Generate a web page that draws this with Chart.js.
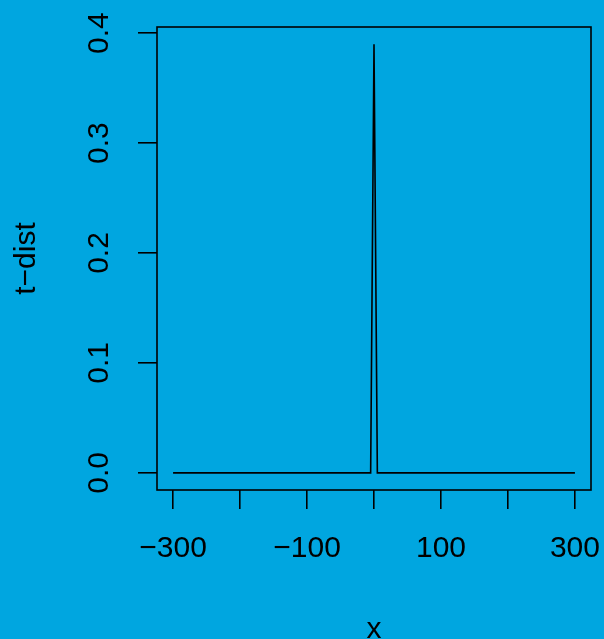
<!DOCTYPE html>
<html>
<head>
<meta charset="utf-8">
<script src="https://cdn.jsdelivr.net/npm/chart.js@4/dist/chart.umd.min.js"></script>
<style>
  html, body { margin: 0; padding: 0; background: #00A6E0; }
  canvas { display: block; }
</style>
</head>
<body>
<canvas id="chart" width="604" height="639"></canvas>
<script>
const xValues = [-300, -5, 0, 5, 300]
const densityValues = [0, 0, 0.39, 0, 0]
const xTicks = [-300, -200, -100, 0, 100, 200, 300]
const xTickLabels = ['\u2212300', '', '\u2212100', '', '100', '', '300']
const yTicks = [0, 0.1, 0.2, 0.3, 0.4]
const yTickLabels = ['0.0', '0.1', '0.2', '0.3', '0.4']

const bg = '#00A6E0'
const font = { family: '"Liberation Sans", Arial, sans-serif', size: 30 }

// no extra room for labels that hang over the plot edges
function noPadding(scale) {
    scale.paddingLeft = 0
    scale.paddingRight = 0
    scale.paddingTop = 0
    scale.paddingBottom = 0
}

const boxPlugin = {
    id: 'box',
    beforeDraw(chart) {
        const ctx = chart.ctx
        ctx.save()
        ctx.fillStyle = bg
        ctx.fillRect(0, 0, chart.width, chart.height)
        ctx.restore()
    },
    afterDraw(chart) {
        const a = chart.chartArea
        const ctx = chart.ctx
        ctx.save()
        ctx.strokeStyle = '#000'
        ctx.lineWidth = 1.6
        ctx.strokeRect(a.left, a.top, a.right - a.left, a.bottom - a.top)
        ctx.restore()
    },
}

new Chart(document.getElementById('chart'), {
    type: 'scatter',
    data: {
        datasets: [
            {
                label: 't-dist',
                data: xValues.map((x, i) => ({ x: x, y: densityValues[i] })),
                showLine: true,
                borderColor: '#000',
                borderWidth: 1.6,
                pointRadius: 0,
                tension: 0,
            },
        ],
    },
    options: {
        responsive: false,
        animation: false,
        devicePixelRatio: 1,
        layout: { padding: { top: 27, right: 13, left: 0, bottom: 0 } },
        plugins: { legend: { display: false }, tooltip: { enabled: false } },
        scales: {
            x: {
                type: 'linear',
                min: -324,
                max: 324,
                afterBuildTicks: (scale) => {
                    scale.ticks = xTicks.map((v) => ({ value: v }))
                },
                afterFit: (scale) => {
                    scale.height = 149
                    noPadding(scale)
                },
                grid: { drawOnChartArea: false, color: '#000', lineWidth: 1.6, tickLength: 19 },
                border: { display: false },
                ticks: {
                    autoSkip: false,
                    maxRotation: 0,
                    padding: 22,
                    color: '#000',
                    font: font,
                    callback: (v) => xTickLabels[xTicks.indexOf(v)],
                },
                title: {
                    display: true,
                    text: 'x',
                    color: '#000',
                    font: { family: font.family, size: 30, lineHeight: 0.6 },
                    padding: 0,
                },
            },
            y: {
                type: 'linear',
                min: -0.0156,
                max: 0.4056,
                afterBuildTicks: (scale) => {
                    scale.ticks = yTicks.map((v) => ({ value: v }))
                },
                afterFit: (scale) => {
                    scale.width = 157
                    noPadding(scale)
                },
                grid: { drawOnChartArea: false, color: '#000', lineWidth: 1.6, tickLength: 19 },
                border: { display: false },
                ticks: {
                    autoSkip: false,
                    minRotation: 90,
                    maxRotation: 90,
                    crossAlign: 'center',
                    padding: 17,
                    color: '#000',
                    font: font,
                    callback: (v) => yTickLabels[yTicks.indexOf(v)],
                },
                title: {
                    display: true,
                    text: 't\u2212dist',
                    color: '#000',
                    font: { family: font.family, size: 30, lineHeight: 1 },
                    padding: { top: 12, bottom: 0 },
                },
            },
        },
    },
    plugins: [boxPlugin],
})
</script>
</body>
</html>
